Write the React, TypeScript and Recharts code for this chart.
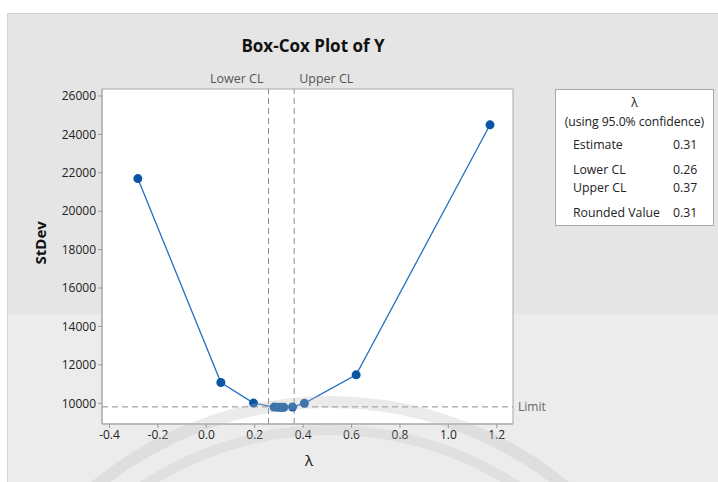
import React from 'react';
import {
  LineChart,
  Line,
  XAxis,
  YAxis,
  ReferenceLine,
  ReferenceArea,
} from 'recharts';

// Box-Cox grid: lambda vs StDev
const lambdas = [-0.283, 0.06, 0.195, 0.28, 0.29, 0.3, 0.31, 0.32, 0.356, 0.405, 0.619, 1.172];
const stdevs = [21700, 11080, 10010, 9802, 9797, 9794, 9792, 9795, 9808, 9995, 11480, 24500];

const xTicks = [-0.4, -0.2, 0.0, 0.2, 0.4, 0.6, 0.8, 1.0, 1.2];
const yTicks = [10000, 12000, 14000, 16000, 18000, 20000, 22000, 24000, 26000];

const lowerCL = 0.257;
const upperCL = 0.363;
const limit = 9812;

const legendRows = [
  { label: 'Estimate', value: '0.31' },
  { label: 'Lower CL', value: '0.26' },
  { label: 'Upper CL', value: '0.37' },
  { label: 'Rounded Value', value: '0.31' },
];

const X_DOMAIN: [number, number] = [-0.431, 1.267];
const Y_DOMAIN: [number, number] = [8920, 26365];

const FONT = '"Open Sans", "Noto Sans", sans-serif';

const chartData = lambdas.map((l, i) => ({ lambda: l, stdev: stdevs[i] }));

function clLabel(text: string, side: 'left' | 'right') {
  return (props: any) => {
    const { viewBox } = props;
    const x = side === 'left' ? viewBox.x - 5 : viewBox.x + 5;
    return (
      <text
        x={x}
        y={viewBox.y - 6}
        textAnchor={side === 'left' ? 'end' : 'start'}
        fontSize={12.5}
        fill="#555"
        fontFamily={FONT}
      >
        {text}
      </text>
    );
  };
}

export default function App() {
  return (
    <div style={{ position: 'fixed', left: 0, top: 0, width: 718, height: 482, background: '#fff', fontFamily: FONT, overflow: 'hidden' }}>
      {/* grey panel */}
      <div style={{ position: 'absolute', left: 7, top: 13, width: 711, height: 469, background: '#e5e5e5', borderTop: '1px solid #d4d4d4', borderLeft: '1px solid #d4d4d4' }} />
      <div style={{ position: 'absolute', left: 8, top: 314, width: 710, height: 168, background: '#ececec' }} />

      <div style={{ position: 'absolute', left: 0, top: 34, width: 626, textAlign: 'center', fontWeight: 700, fontSize: 17, color: '#111' }}>
        Box-Cox Plot of Y
      </div>

      <div style={{ position: 'absolute', left: 0, top: 0 }}>
        <LineChart width={718} height={482} data={chartData} margin={{ top: 89, right: 205, left: 41, bottom: 28 }}>
          <ReferenceArea x1={X_DOMAIN[0]} x2={X_DOMAIN[1]} y1={Y_DOMAIN[0]} y2={Y_DOMAIN[1]} fill="#fff" fillOpacity={1} stroke="#a8a8a8" strokeWidth={1} />
          <XAxis
            type="number"
            dataKey="lambda"
            domain={X_DOMAIN}
            ticks={xTicks}
            allowDataOverflow
            tickFormatter={(v: number) => v.toFixed(1)}
            tick={{ fontSize: 12, fill: '#222', fontFamily: FONT }}
            tickLine={{ stroke: '#999' }}
            tickSize={4}
            axisLine={{ stroke: '#a8a8a8' }}
            height={30}
          />
          <YAxis
            type="number"
            dataKey="stdev"
            domain={Y_DOMAIN}
            ticks={yTicks}
            allowDataOverflow
            tick={{ fontSize: 12, fill: '#222', fontFamily: FONT }}
            tickLine={{ stroke: '#999' }}
            tickSize={4}
            axisLine={{ stroke: '#a8a8a8' }}
            width={61}
            label={{ value: 'StDev', angle: -90, position: 'insideLeft', offset: 0, dy: 8, fontSize: 15, fontWeight: 700, fill: '#111', fontFamily: FONT }}
          />
          <ReferenceLine
            y={limit}
            stroke="#8c8c8c"
            strokeDasharray="6 4"
            label={{ value: 'Limit', position: 'right', fontSize: 12, fill: '#666', fontFamily: FONT }}
          />
          <ReferenceLine x={lowerCL} stroke="#8c8c8c" strokeDasharray="6 4" label={clLabel('Lower CL', 'left')} />
          <ReferenceLine x={upperCL} stroke="#8c8c8c" strokeDasharray="6 4" label={clLabel('Upper CL', 'right')} />
          <Line
            type="linear"
            dataKey="stdev"
            stroke="#2370c2"
            strokeWidth={1.3}
            dot={{ r: 4.5, fill: '#0b56a4', stroke: 'none' }}
            activeDot={false}
            isAnimationActive={false}
          />
        </LineChart>
      </div>

      <div style={{ position: 'absolute', left: 305, top: 450, fontSize: 15, color: '#111' }}>λ</div>

      {/* statistics box */}
      <div style={{ position: 'absolute', left: 555, top: 89, width: 157, height: 135, background: '#fff', border: '1px solid #a8a8a8', fontSize: 12.3, color: '#222' }}>
        <div style={{ textAlign: 'center', marginTop: 4 }}>λ</div>
        <div style={{ textAlign: 'center', marginTop: 2, letterSpacing: -0.1 }}>(using 95.0% confidence)</div>
        {legendRows.map((r, i) => (
          <div key={r.label} style={{ display: 'flex', position: 'absolute', left: 17, top: [46, 71, 89, 114][i] }}>
            <span style={{ width: 100 }}>{r.label}</span>
            <span>{r.value}</span>
          </div>
        ))}
      </div>

      {/* faint watermark arcs */}
      <svg width={718} height={482} style={{ position: 'absolute', left: 0, top: 0, pointerEvents: 'none' }}>
        <circle cx={330} cy={770} r={368} fill="none" stroke="#bdbdbd" strokeOpacity={0.3} strokeWidth={12} />
        <circle cx={330} cy={770} r={340} fill="none" stroke="#bdbdbd" strokeOpacity={0.25} strokeWidth={10} />
      </svg>
    </div>
  );
}
